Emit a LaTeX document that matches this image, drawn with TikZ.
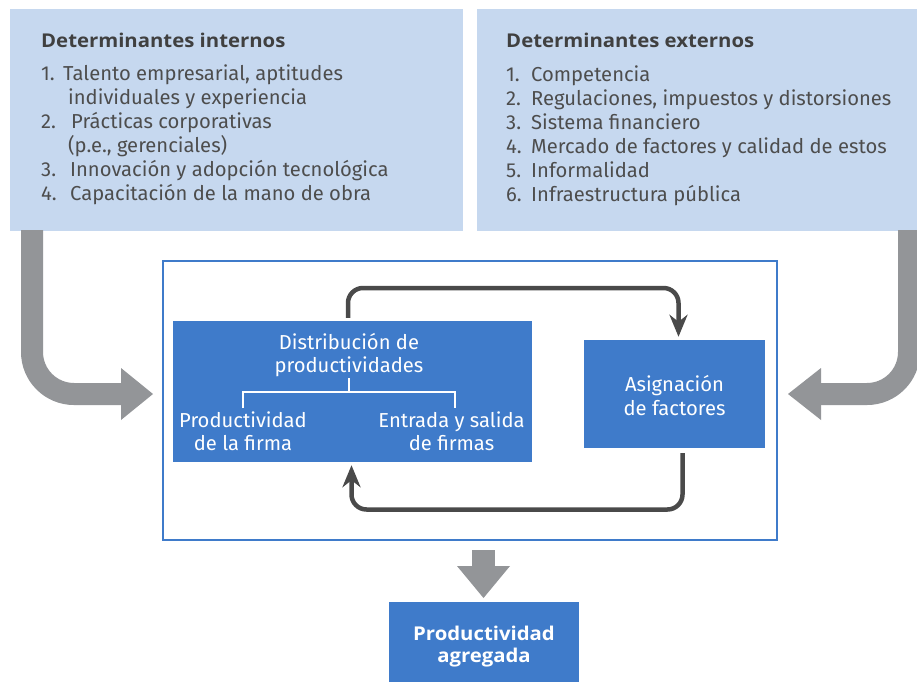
\documentclass[tikz,border=0pt]{standalone}
\usepackage{fontspec}
\setmainfont{Fira Sans}
\newfontfamily\headfont{Open Sans}[UprightFont=* Bold, FakeStretch=1.07]
\usetikzlibrary{arrows.meta}
\definecolor{lightbox}{HTML}{C6D8EF}
\definecolor{midblue}{HTML}{3F7BCA}
\definecolor{arrowgray}{HTML}{939598}
\definecolor{loopgray}{HTML}{4A4A4A}
\definecolor{txt}{HTML}{4D4D4D}
\definecolor{headtxt}{HTML}{404040}
\tikzset{
  topbox/.style={fill=lightbox, draw=none, inner sep=0pt},
  bluebox/.style={fill=midblue, draw=none, inner sep=0pt},
  frame/.style={draw=midblue, line width=2pt, fill=none, inner sep=0pt},
  itemtxt/.style={anchor=base west, inner sep=0pt, text=txt, font=\fontsize{20.2}{24}\selectfont},
  headline/.style={anchor=base west, inner sep=0pt, text=headtxt, font=\fontsize{19}{22}\headfont},
  whitetxt/.style={anchor=base, inner sep=0pt, text=white, font=\fontsize{20.2}{24}\selectfont},
  boldwhite/.style={anchor=base, inner sep=0pt, text=white, font=\fontsize{19}{22}\headfont},
  loopline/.style={draw=loopgray, line width=4.5pt, rounded corners=15pt, -{Stealth[length=22pt, width=18pt, inset=7pt]}},
  bigarrow/.style={draw=arrowgray, line width=22pt, rounded corners=42pt},
  treeline/.style={draw=white, line width=1.2pt},
}
\begin{document}
\begin{tikzpicture}[x=1pt, y=-1pt]
\clip (0,0) rectangle (917,682);
\fill[white] (0,0) rectangle (917,682);

% top boxes
\node[topbox, minimum width=453pt, minimum height=222pt] (ltop) at (236.5,120) {};
\node[topbox, minimum width=445pt, minimum height=222pt, anchor=north west] (rtop) at (477,9) {};

% left texts
\node[headline] (lh) at (41,48) {Determinantes internos};
\node[itemtxt] (l1n) at (41,81) {1.};
\node[itemtxt] (l1a) at (63,81) {Talento empresarial, aptitudes};
\node[itemtxt] (l1b) at (68,104.5) {individuales y experiencia};
\node[itemtxt] (l2n) at (41,128.5) {2.};
\node[itemtxt] (l2a) at (71,128.5) {Prácticas corporativas};
\node[itemtxt] (l2b) at (68,152) {(p.e., gerenciales)};
\node[itemtxt] (l3n) at (41,176) {3.};
\node[itemtxt] (l3a) at (70,176) {Innovación y adopción tecnológica};
\node[itemtxt] (l4n) at (41,200) {4.};
\node[itemtxt] (l4a) at (70,200) {Capacitación de la mano de obra};

% right texts
\node[headline] (rh) at (506,48) {Determinantes externos};
\node[itemtxt] (r1n) at (506,82) {1.};
\node[itemtxt] (r1a) at (531,82) {Competencia};
\node[itemtxt] (r2n) at (506,105.5) {2.};
\node[itemtxt] (r2a) at (531,105.5) {Regulaciones, impuestos y distorsiones};
\node[itemtxt] (r3n) at (506,129.5) {3.};
\node[itemtxt] (r3a) at (531,129.5) {Sistema financiero};
\node[itemtxt] (r4n) at (506,153) {4.};
\node[itemtxt] (r4a) at (531,153) {Mercado de factores y calidad de estos};
\node[itemtxt] (r5n) at (506,177) {5.};
\node[itemtxt] (r5a) at (531,177) {Informalidad};
\node[itemtxt] (r6n) at (506,201) {6.};
\node[itemtxt] (r6a) at (531,201) {Infraestructura pública};

% central frame
\node[frame, minimum width=614pt, minimum height=279pt] (frm) at (470,400.5) {};

% distribution box
\node[bluebox, minimum width=359pt, minimum height=141pt] (dist) at (352.5,391.5) {};
\node[whitetxt] (d1) at (349,349) {Distribución de};
\node[whitetxt] (d2) at (349,372) {productividades};
\coordinate (tA) at (349,378);
\coordinate (tB) at (349,392);
\coordinate (tL) at (243,392);
\coordinate (tR) at (455,392);
\coordinate (tLd) at (243,408);
\coordinate (tRd) at (455,408);
\draw[treeline] (tA) -- (tB);
\draw[treeline] (tLd) -- (tL) -- (tR) -- (tRd);
\node[whitetxt] (pf1) at (243,427) {Productividad};
\node[whitetxt] (pf2) at (243,450) {de la firma};
\node[whitetxt] (es1) at (451.5,427) {Entrada y salida};
\node[whitetxt] (es2) at (451.5,450) {de firmas};

% asignacion box
\node[bluebox, minimum width=181pt, minimum height=108pt] (asig) at (674.5,394) {};
\node[whitetxt] (a1) at (674.5,391) {Asignación};
\node[whitetxt] (a2) at (674.5,415) {de factores};

% loops
\coordinate (lt1) at (348,288);
\coordinate (lt2) at (678.5,288);
\coordinate (lb1) at (682.5,509.5);
\coordinate (lb2) at (351.5,509.5);
\draw[loopline] ([xshift=-4.5pt, yshift=3pt]dist.north) -- (lt1) -- (lt2) -- ([xshift=4pt, yshift=3pt]asig.north);
\draw[loopline] ([xshift=8pt, yshift=-5pt]asig.south) -- (lb1) -- (lb2) -- ([xshift=-1pt, yshift=-3pt]dist.south);

% aggregate box
\node[bluebox, minimum width=190pt, minimum height=80pt] (agg) at (484,642) {};
\node[boldwhite] (g1) at (484,640) {Productividad};
\node[boldwhite] (g2) at (484,662) {agregada};

% big gray arrows
\coordinate (la1) at (32,230);
\coordinate (la2) at (32,394);
\coordinate (la3) at (122,394);
\draw[bigarrow] (la1) -- (la2) -- (la3);
\fill[arrowgray] (121,368) -- (153,394) -- (121,420) -- cycle;
\coordinate (ra1) at (909,230);
\coordinate (ra2) at (909,394);
\coordinate (ra3) at (820,394);
\draw[bigarrow] (ra1) -- (ra2) -- (ra3);
\fill[arrowgray] (821,368) -- (788,394) -- (821,420) -- cycle;

% down arrow
\coordinate (da1) at (483.5,550);
\coordinate (da2) at (483.5,567);
\draw[draw=arrowgray, line width=23pt] (da1) -- (da2);
\fill[arrowgray] (457,566) -- (510,566) -- (483.5,598) -- cycle;
\end{tikzpicture}
\end{document}
